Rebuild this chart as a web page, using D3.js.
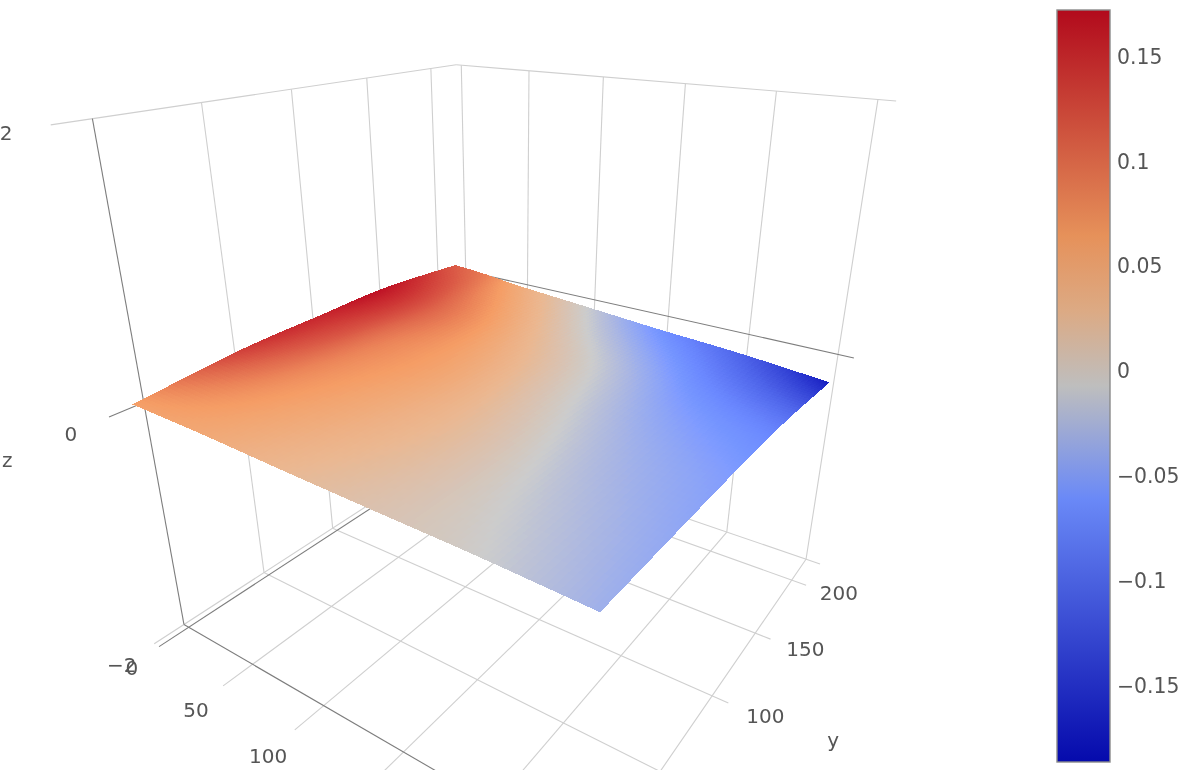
<!DOCTYPE html>
<html>
<head>
<meta charset="utf-8">
<script src="https://cdn.jsdelivr.net/npm/d3@7/dist/d3.min.js"></script>
<style>
html,body{margin:0;padding:0;background:#fff;overflow:hidden}
svg{display:block;filter:blur(0.45px)}
text{font-family:"DejaVu Sans",Verdana,sans-serif;fill:#555}
</style>
</head>
<body>
<svg id="chart" width="1199" height="770"></svg>
<script>
// ---- data ----
const xValues = [1, 25, 50, 100, 150, 200, 251];
const yValues = [-8, 50, 100, 150, 211];
const zRow0 = [0.060, 0.056, 0.050, 0.028, 0.010, -0.006, -0.035];
const zRow1 = [0.138, 0.100, 0.072, 0.043, 0.015, -0.020, -0.045];
const zRow2 = [0.158, 0.125, 0.085, 0.050, 0.006, -0.035, -0.058];
const zRow3 = [0.171, 0.135, 0.095, 0.035, -0.012, -0.060, -0.090];
const zRow4 = [0.115, 0.090, 0.050, -0.006, -0.062, -0.108, -0.175];
const zRows = [zRow0, zRow1, zRow2, zRow3, zRow4];
const xTicks = [0, 50, 100, 150, 200, 250];
const yTicks = [0, 50, 100, 150, 200];
const zTicks = [-2, 0, 2];
const colorTicks = [-0.15, -0.1, -0.05, 0, 0.05, 0.1, 0.15];
const colorStops = [[0, "rgb(5,10,172)"], [0.35, "rgb(106,137,247)"], [0.5, "rgb(190,190,190)"],
                    [0.6, "rgb(220,170,132)"], [0.7, "rgb(230,145,90)"], [1, "rgb(178,10,28)"]];
const zColorMin = -0.1867, zColorMax = 0.172;
const xRange = [-4, 250], yRange = [0, 222], zRange = [-2, 2];

// camera: unit-box corners and where the perspective view puts them
const cameraAnchors = [
  [0,0,0, 183,624],[0,0,1, 93,120],[0,0,.5, 143,402],
  [0,1,1, 456,63],[0,1,0, 466,441],[0,1,.5, 461,273],
  [1,1,1, 878,100],[1,1,0, 805,561],[1,1,.5, 838,352],
  [1,0,0, 598,864]
];

function solveCamera(anchors){
  const n = 11, A = d3.range(n).map(() => new Array(n + 1).fill(0));
  const add = (r, b) => { for (let i = 0; i < n; i++){ for (let j = 0; j < n; j++) A[i][j] += r[i]*r[j]; A[i][n] += r[i]*b; } };
  anchors.forEach(([u,v,w,sx,sy]) => {
    const X = sx/1000, Y = sy/1000;
    add([u,v,w,1,0,0,0,0,-X*u,-X*v,-X*w], X);
    add([0,0,0,0,u,v,w,1,-Y*u,-Y*v,-Y*w], Y);
  });
  for (let i = 0; i < n; i++){
    let p = i; for (let k = i+1; k < n; k++) if (Math.abs(A[k][i]) > Math.abs(A[p][i])) p = k;
    [A[i], A[p]] = [A[p], A[i]];
    for (let k = 0; k < n; k++) if (k !== i){
      const f = A[k][i]/A[i][i];
      for (let j = i; j <= n; j++) A[k][j] -= f*A[i][j];
    }
  }
  return A.map((r,i) => r[n]/r[i]);
}
const cam = solveCamera(cameraAnchors);
const sx = d3.scaleLinear().domain(xRange).range([0,1]);
const sy = d3.scaleLinear().domain(yRange).range([0,1]);
const sz = d3.scaleLinear().domain(zRange).range([0,1]);
function projectUnit(u,v,w){
  const d = cam[8]*u + cam[9]*v + cam[10]*w + 1;
  return [1000*(cam[0]*u+cam[1]*v+cam[2]*w+cam[3])/d, 1000*(cam[4]*u+cam[5]*v+cam[6]*w+cam[7])/d];
}
const project = (x,y,z) => projectUnit(sx(x), sy(y), sz(z));

const color = d3.scaleLinear()
  .domain(colorStops.map(s => zColorMin + s[0]*(zColorMax - zColorMin)))
  .range(colorStops.map(s => s[1]))
  .interpolate(d3.interpolateRgb).clamp(true);
const lit = z => { const c = d3.rgb(color(z)); return d3.rgb(c.r*1.03+8, c.g*1.03+8, c.b*1.03+8).formatHex(); };

const svg = d3.select("#chart");
const line = d3.line();
const gGrid = svg.append("g").attr("fill","none");
const LIGHT = "#cfcfcf", ZERO = "#7d7d7d";
const [x0,x1] = xRange, [y0,y1] = yRange, [z0,z1] = zRange;
const xExt = (x1-x0)*0.033, yExt = (y1-y0)*0.075;

const seg = [];
// floor
xTicks.forEach(x => seg.push({a:[x,y0-yExt,z0], b:[x,y1,z0], zero:x===0}));
yTicks.forEach(y => seg.push({a:[x0,y,z0], b:[x1+xExt,y,z0], zero:y===0}));
// wall at the low-x side
yTicks.forEach(y => seg.push({a:[x0,y,z0], b:[x0,y,z1], zero:y===0}));
zTicks.forEach(z => seg.push({a:[x0,y0-yExt,z], b:[x0,y1,z], zero:z===0}));
// wall at the high-y side
xTicks.forEach(x => seg.push({a:[x,y1,z0], b:[x,y1,z1], zero:false}));
zTicks.forEach(z => seg.push({a:[x0,y1,z], b:[x1+xExt,y1,z], zero:z===0}));
seg.sort((p,q) => p.zero - q.zero);
gGrid.selectAll("path").data(seg).join("path")
  .attr("d", s => line([project(...s.a), project(...s.b)]))
  .attr("stroke", s => s.zero ? ZERO : LIGHT)
  .attr("stroke-width", 1.1);

// surface: smooth subdivision between the read cells
const cr = (p0,p1,p2,p3,t) => 0.5*((2*p1)+(-p0+p2)*t+(2*p0-5*p1+4*p2-p3)*t*t+(-p0+3*p1-3*p2+p3)*t*t*t);
const at = (arr,i) => arr[Math.max(0,Math.min(arr.length-1,i))];
const smooth = (arr,t) => { const i = Math.min(Math.floor(t),arr.length-2); return cr(at(arr,i-1),at(arr,i),at(arr,i+1),at(arr,i+2),t-i); };
function zAt(r,c){
  const ri = Math.min(Math.floor(r), zRows.length-2);
  const col = k => smooth(at(zRows,ri+k), c);
  return cr(col(-1),col(0),col(1),col(2),r-ri);
}
const NR = 100, NC = 120, cells = [];
for (let i = 0; i < NR; i++) for (let j = 0; j < NC; j++) cells.push([i,j]);
const rOf = i => i/NR*(yValues.length-1), cOf = j => j/NC*(xValues.length-1);
const pt = (i,j) => project(smooth(xValues,cOf(j)), smooth(yValues,rOf(i)), zAt(rOf(i),cOf(j)));
const fixed = p => p.map(v => +v.toFixed(2));
svg.append("g").attr("shape-rendering","crispEdges").style("filter","blur(0.6px)")
  .selectAll("path").data(cells).join("path")
  .attr("d", ([i,j]) => line([pt(i,j),pt(i,j+1),pt(i+1,j+1),pt(i+1,j)].map(fixed))+"Z")
  .attr("fill", ([i,j]) => lit(zAt(rOf(i+.5),cOf(j+.5))));

// tick labels
const fmt = v => String(v).replace("-", "\u2212");
const labels = [];
xTicks.forEach(x => { const p = project(x,y0-yExt*1.87,z0); labels.push({p:[p[0],p[1]+4], t:fmt(x)}); });
yTicks.forEach(y => { const p = project(x1+xExt*3.15,y,z0); labels.push({p:[p[0]+1,p[1]-3], t:fmt(y)}); });
zTicks.forEach(z => { const p = project(x0,y0-yExt*2.0,z); labels.push({p:[Math.max(p[0]-1,6),p[1]+1], t:fmt(z)}); });
{ const p = project(x1+(x1-x0)*0.22,(y0+y1)/2,z0); labels.push({p:[p[0]-2,p[1]+10], t:"y"}); }
{ const p = project(x0,y0-(y1-y0)*0.27,0); labels.push({p:[Math.max(p[0],6),p[1]], t:"z"}); }
svg.append("g").selectAll("text").data(labels.filter(d => d.p[1] < 766)).join("text")
  .attr("x", d => d.p[0]).attr("y", d => d.p[1])
  .attr("text-anchor","middle").attr("dominant-baseline","central")
  .style("font-size","20px").text(d => d.t);

// colorbar
const barX = 1057, barW = 53, barTop = 10, barBottom = 762;
const cy = d3.scaleLinear().domain([zColorMax, zColorMin]).range([barTop, barBottom]);
const grad = svg.append("defs").append("linearGradient").attr("id","cb").attr("x1",0).attr("x2",0).attr("y1",1).attr("y2",0);
colorStops.forEach(s => grad.append("stop").attr("offset",s[0]).attr("stop-color",s[1]));
svg.append("rect").attr("x",barX).attr("y",barTop).attr("width",barW).attr("height",barBottom-barTop)
  .attr("fill","url(#cb)").attr("stroke","#8a8a8a").attr("stroke-width",1.4);
const axis = d3.axisRight(cy).tickValues(colorTicks).tickSize(0).tickPadding(0).tickFormat(v => fmt(v));
const gA = svg.append("g").attr("transform",`translate(${barX+barW+7},0)`).call(axis);
gA.select(".domain").remove();
gA.selectAll("text").attr("x",0).attr("dy","0.35em").style("font-size","20.4px")
  .style("font-family",'"DejaVu Sans",Verdana,sans-serif').attr("fill","#555");
</script>
</body>
</html>
